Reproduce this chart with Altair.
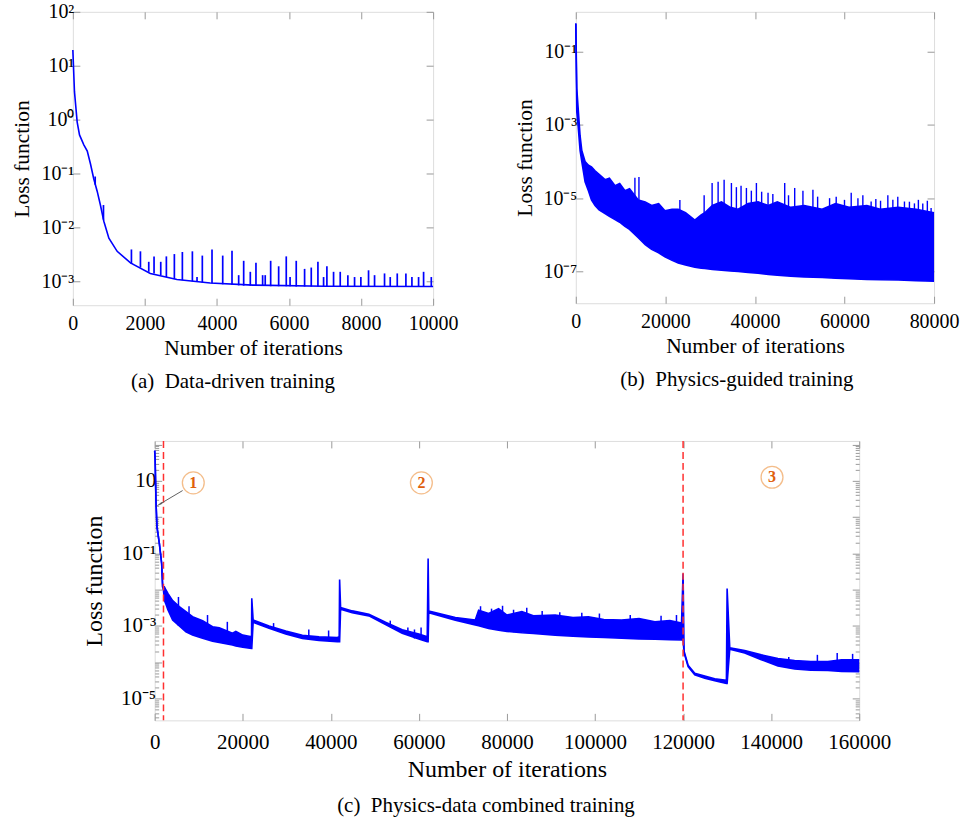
import altair as alt
import pandas as pd

FONT = "Liberation Serif"
BLUE = "#0000ff"
FRAME = "#9a9a9a"
LW = 1.6

# ---------------- (a) Data-driven training ----------------
a_iter = [0, 45, 120, 185, 305, 400, 490, 580, 675, 765, 860, 1000, 1230, 1600,
          2150, 2890, 3815, 5000, 7000, 10000]
a_loss = [19.6, 3.3, 0.9, 0.52, 0.34, 0.26, 0.15, 0.08, 0.047, 0.026, 0.013, 0.0063,
          0.0036, 0.0022, 0.0014, 0.00108, 0.00093, 0.00085, 0.00081, 0.0008]
a_spike_iter = [620, 850, 1626, 1876, 2107, 2254, 2440, 2596, 2818, 3040, 3318, 3447, 3594,
                3863, 4160, 4418, 4603, 4742, 4926, 5083, 5268, 5340, 5491, 5713, 5924,
                6030, 6201, 6433, 6618, 6803, 6960, 7052, 7237, 7422, 7634, 7820, 7995,
                8208, 8375, 8652, 8810, 9005, 9245, 9412, 9597, 9736, 9950]
a_spike_peak = [0.088, 0.026, 0.0039, 0.0036, 0.0023, 0.0029, 0.0023, 0.0029, 0.0032, 0.0035,
                0.0036, 0.0012, 0.0030, 0.0039, 0.0030, 0.0037, 0.0013, 0.0024, 0.0015,
                0.0022, 0.0013, 0.0013, 0.0024, 0.0019, 0.0029, 0.0012, 0.0024, 0.0017,
                0.0018, 0.0023, 0.0012, 0.0019, 0.0015, 0.0015, 0.0013, 0.0012, 0.0012,
                0.0016, 0.0013, 0.0014, 0.0012, 0.0014, 0.0014, 0.0012, 0.0012, 0.0015,
                0.0012]
a_spike_base = [0.062, 0.014, 0.0021, 0.0018, 0.0015, 0.0014, 0.0013, 0.0012, 0.0011, 0.00105,
                0.001, 0.00097, 0.00095, 0.00092, 0.00088, 0.00086, 0.00084, 0.00083,
                0.00083, 0.00082, 0.00082, 0.00082, 0.00081, 0.00081, 0.00081, 0.00081,
                0.0008, 0.0008, 0.0008, 0.0008, 0.0008, 0.0008, 0.0008, 0.0008, 0.0008,
                0.0008, 0.0008, 0.0008, 0.0008, 0.0008, 0.0008, 0.0008, 0.0008, 0.0008,
                0.0008, 0.0008, 0.0008]
a_xticks = [0, 2000, 4000, 6000, 8000, 10000]
a_yticks = [1e-3, 1e-2, 1e-1, 1, 10, 100]
a_ylabels = ["10\u207b\u00b3", "10\u207b\u00b2", "10\u207b\u00b9", "10\u2070", "10\u00b9", "10\u00b2"]

# ---------------- (b) Physics-guided training ----------------
b_iter = [0, 220, 500, 960, 1340, 2070, 2820, 3500, 4300, 5200, 6530, 7500, 8760, 9800,
          10980, 12000, 13950, 15500, 16930, 18500, 19900, 21500, 22870, 24500, 26580,
          28000, 28810, 30500, 32530, 34500, 36250, 38500, 40700, 43000, 45000, 48000,
          51000, 55000, 58000, 61000, 65000, 68000, 72000, 76000, 80000]
b_lo = [0.59, 2.3e-3, 1.0e-3, 2.0e-4, 1.0e-4, 2.8e-5, 1.6e-5, 8.9e-6, 6.3e-6, 4.8e-6,
        3.8e-6, 3.2e-6, 2.6e-6, 2.2e-6, 1.7e-6, 1.4e-6, 8.3e-7, 5.4e-7, 4.0e-7, 3.2e-7,
        2.5e-7, 2.0e-7, 1.7e-7, 1.5e-7, 1.3e-7, 1.23e-7, 1.2e-7, 1.12e-7, 1.07e-7, 1.02e-7,
        1.0e-7, 9.3e-8, 8.9e-8, 8.3e-8, 7.9e-8, 7.4e-8, 7.1e-8, 6.8e-8, 6.5e-8, 6.3e-8,
        6.0e-8, 5.9e-8, 5.8e-8, 5.6e-8, 5.4e-8]
b_hi = [0.59, 1.0e-2, 3.2e-3, 5.0e-4, 2.0e-4, 1.0e-4, 7.9e-5, 7.1e-5, 5.6e-5, 4.5e-5,
        3.2e-5, 3.5e-5, 2.2e-5, 2.5e-5, 1.6e-5, 1.8e-5, 8.9e-6, 7.9e-6, 6.3e-6, 7.1e-6,
        4.5e-6, 5.0e-6, 5.0e-6, 4.0e-6, 2.5e-6, 3.5e-6, 4.0e-6, 6.3e-6, 7.9e-6, 5.6e-6,
        5.0e-6, 7.1e-6, 7.9e-6, 6.3e-6, 7.9e-6, 5.6e-6, 6.3e-6, 5.0e-6, 7.1e-6, 5.6e-6,
        6.3e-6, 5.0e-6, 5.6e-6, 5.0e-6, 4.0e-6]
b_spike_iter = [13200, 14100, 23240, 28660, 30440, 31780, 33120, 34750, 35860, 36900, 38100,
                39200, 40330, 41500, 42930, 44000, 46650, 47500, 48880, 50720, 52950, 54000,
                56670, 58150, 60000, 61500, 63000, 64100, 65950, 67000, 68050, 69680, 70800,
                71900, 73390, 74500, 75620, 76500, 77480, 78500, 79340]
b_spike_peak = [3.6e-5, 3.8e-5, 8.9e-6, 1.2e-5, 2.6e-5, 2.8e-5, 3.2e-5, 2.6e-5, 2.0e-5,
                2.2e-5, 1.9e-5, 1.6e-5, 2.6e-5, 1.5e-5, 1.4e-5, 1.3e-5, 2.6e-5, 1.2e-5,
                1.9e-5, 1.6e-5, 1.7e-5, 1.1e-5, 1.0e-5, 1.1e-5, 9.0e-6, 1.4e-5, 1.0e-5,
                1.2e-5, 8.1e-6, 9.5e-6, 8.5e-6, 1.2e-5, 9.0e-6, 1.1e-5, 8.1e-6, 8.0e-6,
                7.2e-6, 9.0e-6, 7.2e-6, 8.5e-6, 5.4e-6]
b_spike_base = [2e-6, 2e-6, 2e-6, 2e-6, 2e-6, 2e-6, 2e-6, 2e-6, 2e-6, 2e-6, 2e-6,
                2e-6, 2e-6, 2e-6, 2e-6, 2e-6, 2e-6, 2e-6, 2e-6, 2e-6, 2e-6, 2e-6,
                2e-6, 2e-6, 2e-6, 2e-6, 2e-6, 2e-6, 2e-6, 2e-6, 2e-6, 2e-6, 2e-6,
                2e-6, 2e-6, 2e-6, 2e-6, 2e-6, 2e-6, 2e-6, 2e-6]
b_xticks = [0, 20000, 40000, 60000, 80000]
b_yticks = [1e-7, 1e-5, 1e-3, 1e-1]
b_ylabels = ["10\u207b\u2077", "10\u207b\u2075", "10\u207b\u00b3", "10\u207b\u00b9"]

# ---------------- (c) Physics-data combined training ----------------
c_iter = [0, 100, 200, 300, 520, 1060, 1590, 1810, 2000, 2200, 2560, 3000, 4080, 5590,
          7100, 8600, 10880, 13140, 14660, 17670, 18440, 20000, 22000, 22050, 22360, 25980,
          29760, 33540, 37320, 41470, 41900, 42000, 42220, 44870, 48650, 52430, 56210,
          59990, 61900, 62100, 62240, 68280, 72810, 73570, 75840, 78100, 80000, 83390,
          86000, 90950, 95000, 98500, 102000, 106050, 110000, 113600, 117000, 119650,
          120000, 120230, 121140, 122650, 124920, 127190, 129840, 130000, 130600, 134000,
          137770, 141550, 145330, 149000, 152880, 156000, 160000]
c_lo = [68, 40, 10, 2.6, 0.54, 0.19, 0.052, 0.012, 0.0095, 5.1e-3, 4.0e-3, 2.8e-3, 1.45e-3,
        1.0e-3, 6.9e-4, 5.6e-4, 4.6e-4, 3.8e-4, 3.5e-4, 3.0e-4, 2.8e-4, 2.6e-4, 2.4e-4,
        2.4e-4, 1.26e-3, 8.7e-4, 6.0e-4, 4.5e-4, 4.0e-4, 3.7e-4, 3.7e-4, 3.7e-4, 2.9e-3,
        2.3e-3, 1.9e-3, 1.1e-3, 6.3e-4, 4.4e-4, 3.7e-4, 3.7e-4, 2.3e-3, 1.45e-3, 1.07e-3,
        1.02e-3, 8.5e-4, 7.6e-4, 7.1e-4, 6.5e-4, 6.2e-4, 5.6e-4, 5.2e-4, 5.0e-4, 4.8e-4,
        4.6e-4, 4.4e-4, 4.3e-4, 4.2e-4, 4.1e-4, 4.1e-4, 1.8e-4, 7.6e-5, 4.5e-5, 3.6e-5,
        3.1e-5, 2.6e-5, 2.6e-5, 2.3e-4, 1.8e-4, 1.17e-4, 7.9e-5, 6.5e-5, 6.0e-5, 5.9e-5,
        5.6e-5, 5.5e-5]
c_hi = [68, 40, 10, 2.6, 0.54, 0.19, 0.052, 0.012, 0.012, 1.2e-2, 9.8e-3, 7.9e-3, 5.0e-3,
        3.4e-3, 2.5e-3, 1.8e-3, 1.4e-3, 9.5e-4, 8.9e-4, 6.3e-4, 7.1e-4, 5.6e-4, 5.0e-4,
        5.8e-3, 1.45e-3, 1.0e-3, 7.2e-4, 5.5e-4, 5.0e-4, 4.8e-4, 5.0e-4, 1.9e-2, 3.2e-3,
        2.6e-3, 2.1e-3, 1.26e-3, 7.9e-4, 6.0e-4, 5.0e-4, 7.2e-2, 2.6e-3, 1.7e-3, 1.45e-3,
        2.7e-3, 2.2e-3, 3.0e-3, 2.0e-3, 2.5e-3, 1.9e-3, 2.0e-3, 1.7e-3, 1.8e-3, 1.5e-3,
        1.45e-3, 1.6e-3, 1.3e-3, 1.4e-3, 1.2e-3, 2.8e-2, 2.0e-4, 8.3e-5, 5.0e-5, 4.2e-5,
        3.5e-5, 3.2e-5, 1.07e-2, 2.5e-4, 2.1e-4, 1.6e-4, 1.26e-4, 1.12e-4, 1.05e-4, 1.05e-4,
        1.17e-4, 1.17e-4]
c_spike_iter = [5400, 7800, 12000, 16500, 27000, 35000, 39500, 53500, 57500, 59000, 60500,
                74000, 76500, 79000, 81500, 84500, 88000, 92000, 97000, 101000, 108000,
                115000, 118500, 144000, 150500, 155000, 158500]
c_spike_peak = [6.3e-3, 3.5e-3, 2.0e-3, 1.3e-3, 1.2e-3, 8.0e-4, 7.5e-4, 1.4e-3, 9.0e-4,
                8.0e-4, 9.0e-4, 3.5e-3, 3.0e-3, 3.6e-3, 2.8e-3, 3.2e-3, 2.6e-3, 2.4e-3,
                2.3e-3, 2.2e-3, 2.0e-3, 1.9e-3, 2.0e-3, 1.4e-4, 1.6e-4, 1.8e-4, 1.7e-4]
c_spike_base = [1.0e-3, 6.5e-4, 4.2e-4, 3.2e-4, 8.5e-4, 4.3e-4, 3.8e-4, 1.0e-3, 6.0e-4,
                4.5e-4, 4.2e-4, 1.0e-3, 8.5e-4, 7.3e-4, 6.7e-4, 6.4e-4, 6.0e-4, 5.5e-4,
                5.1e-4, 4.8e-4, 4.5e-4, 4.3e-4, 4.1e-4, 7.0e-5, 6.0e-5, 5.7e-5, 5.5e-5]
c_phase_iter = [2000, 120000]
c_ann_iter = [8770, 60570, 140200]
c_ann_loss = [8.8, 8.8, 12.6]
c_ann_label = ["1", "2", "3"]
c_arrow_iter = [6350, 1200]
c_arrow_loss = [5.4, 2.3]
c_xticks = [0, 20000, 40000, 60000, 80000, 100000, 120000, 140000, 160000]
c_yticks = [1e-5, 1e-3, 1e-1, 10]
c_ylabels = ["10\u207b\u2075", "10\u207b\u00b3", "10\u207b\u00b9", "10"]
# tick positions of the log axis of (c): every decade with its minor steps
c_ytick_all = [m * 10.0 ** e for e in range(-6, 3) for m in range(1, 10)
               if 2.5e-6 <= m * 10.0 ** e <= 126]


def label_expr(vals, labels):
    import math
    parts = [f"abs(log(datum.value)/LN10 - ({round(math.log10(v))})) < 0.001 ? '{l}'"
             for v, l in zip(vals, labels)]
    return " : ".join(parts) + " : ''"


MINOR_SIZE = ("abs(log(datum.value)/LN10 - round(log(datum.value)/LN10)) < 0.001"
              " ? -7 : -4")


def axis(orient, vals, lsize, tsize, title=None, lexpr=None, fmt=None,
         labels=True, lpad=4, tpad=6, tick_expr="-7"):
    kw = dict(orient=orient, values=vals, grid=False, domain=False, ticks=True,
              tickSize={"expr": tick_expr}, tickColor=FRAME, tickWidth=1,
              labels=labels, labelFont=FONT, labelFontSize=lsize, labelColor="black",
              labelPadding=lpad, labelFlush=False, labelOverlap=False)
    if lexpr:
        kw["labelExpr"] = lexpr
    if fmt:
        kw["format"] = fmt
    if title:
        kw.update(title=title, titleFont=FONT, titleFontSize=tsize,
                  titleFontWeight="normal", titleColor="black", titlePadding=tpad)
    else:
        kw["title"] = None
    return alt.Axis(**kw)


def frame_layer(df, xf, yf, xs, ys, xticks, yticks, ytick_expr="-7"):
    return alt.Chart(df.head(1)).mark_point(opacity=0).encode(
        x=alt.X(xf, scale=xs, axis=axis("top", xticks, 10, 10, labels=False)),
        y=alt.Y(yf, scale=ys, axis=axis("right", yticks, 10, 10, labels=False,
                                        tick_expr=ytick_expr)),
    )


def caption(text, dx, offset):
    return alt.TitleParams(text=text, orient="bottom", anchor="middle", font=FONT,
                           fontSize=21, fontWeight="normal", color="black",
                           offset=offset, dx=dx)


# ---------- panel a ----------
a_df = pd.DataFrame({"it": a_iter, "loss": a_loss})
a_sp = pd.DataFrame({"it": a_spike_iter, "peak": a_spike_peak, "base": a_spike_base})
xs_a = alt.Scale(domain=[0, 10000], nice=False)
ys_a = alt.Scale(type="log", domain=[3.6e-4, 100], nice=False)

line_a = alt.Chart(a_df).mark_line(color=BLUE, strokeWidth=LW).encode(
    x=alt.X("it:Q", scale=xs_a,
            axis=axis("bottom", a_xticks, 20, 21.5, "Number of iterations", fmt="d",
                      lpad=15, tpad=4)),
    y=alt.Y("loss:Q", scale=ys_a,
            axis=axis("left", a_yticks, 20, 21.5, "Loss function",
                      lexpr=label_expr(a_yticks, a_ylabels), lpad=6, tpad=7)),
)
spk_a = alt.Chart(a_sp).mark_rule(color=BLUE, strokeWidth=1.7).encode(
    x=alt.X("it:Q", scale=xs_a, axis=None),
    y=alt.Y("base:Q", scale=ys_a, axis=None),
    y2="peak:Q",
)
A = alt.layer(line_a, spk_a, frame_layer(a_df, "it:Q", "loss:Q", xs_a, ys_a, a_xticks, a_yticks)
              ).resolve_axis(x="independent", y="independent").properties(
    width=361, height=294, title=caption("(a)\u00a0 Data-driven training", -20, 12))

# ---------- panel b ----------
b_df = pd.DataFrame({"it": b_iter, "lo": b_lo, "hi": b_hi})
b_sp = pd.DataFrame({"it": b_spike_iter, "peak": b_spike_peak, "base": b_spike_base})
xs_b = alt.Scale(domain=[0, 80000], nice=False)
ys_b = alt.Scale(type="log", domain=[1.35e-8, 1.23], nice=False)

band_b = alt.Chart(b_df).mark_area(color=BLUE, opacity=1).encode(
    x=alt.X("it:Q", scale=xs_b,
            axis=axis("bottom", b_xticks, 20, 21.5, "Number of iterations", fmt="d",
                      lpad=15, tpad=4)),
    y=alt.Y("lo:Q", scale=ys_b,
            axis=axis("left", b_yticks, 20, 21.5, "Loss function",
                      lexpr=label_expr(b_yticks, b_ylabels), lpad=6, tpad=6)),
    y2="hi:Q",
)
lo_b = alt.Chart(b_df).mark_line(color=BLUE, strokeWidth=LW).encode(
    x=alt.X("it:Q", scale=xs_b, axis=None), y=alt.Y("lo:Q", scale=ys_b, axis=None))
hi_b = alt.Chart(b_df).mark_line(color=BLUE, strokeWidth=LW).encode(
    x=alt.X("it:Q", scale=xs_b, axis=None), y=alt.Y("hi:Q", scale=ys_b, axis=None))
spk_b = alt.Chart(b_sp).mark_rule(color=BLUE, strokeWidth=1.4).encode(
    x=alt.X("it:Q", scale=xs_b, axis=None),
    y=alt.Y("base:Q", scale=ys_b, axis=None),
    y2="peak:Q",
)
B = alt.layer(band_b, lo_b, hi_b, spk_b,
              frame_layer(b_df, "it:Q", "lo:Q", xs_b, ys_b, b_xticks, b_yticks)
              ).resolve_axis(x="independent", y="independent").properties(
    width=359, height=292, title=caption("(b)\u00a0 Physics-guided training", -18, 12))

# ---------- panel c ----------
c_df = pd.DataFrame({"it": c_iter, "lo": c_lo, "hi": c_hi})
c_sp = pd.DataFrame({"it": c_spike_iter, "peak": c_spike_peak, "base": c_spike_base})
c_ph = pd.DataFrame({"it": c_phase_iter})
c_an = pd.DataFrame({"it": c_ann_iter, "loss": c_ann_loss, "label": c_ann_label})
c_ar = pd.DataFrame({"it": c_arrow_iter, "loss": c_arrow_loss})
xs_c = alt.Scale(domain=[0, 160000], nice=False)
ys_c = alt.Scale(type="log", domain=[2.5e-6, 126], nice=False)

band_c = alt.Chart(c_df).mark_area(color=BLUE, opacity=1).encode(
    x=alt.X("it:Q", scale=xs_c,
            axis=axis("bottom", c_xticks, 21, 24, "Number of iterations", fmt="d",
                      lpad=18, tpad=5)),
    y=alt.Y("lo:Q", scale=ys_c,
            axis=axis("left", c_ytick_all, 21, 24, "Loss function",
                      lexpr=label_expr(c_yticks, c_ylabels), lpad=6, tpad=14,
                      tick_expr=MINOR_SIZE)),
    y2="hi:Q",
)
lo_c = alt.Chart(c_df).mark_line(color=BLUE, strokeWidth=LW).encode(
    x=alt.X("it:Q", scale=xs_c, axis=None), y=alt.Y("lo:Q", scale=ys_c, axis=None))
hi_c = alt.Chart(c_df).mark_line(color=BLUE, strokeWidth=LW).encode(
    x=alt.X("it:Q", scale=xs_c, axis=None), y=alt.Y("hi:Q", scale=ys_c, axis=None))
spk_c = alt.Chart(c_sp).mark_rule(color=BLUE, strokeWidth=1.5).encode(
    x=alt.X("it:Q", scale=xs_c, axis=None),
    y=alt.Y("base:Q", scale=ys_c, axis=None),
    y2="peak:Q",
)
phase_c = alt.Chart(c_ph).mark_rule(color="#ff3030", strokeWidth=1.5, strokeDash=[7, 4]).encode(
    x=alt.X("it:Q", scale=xs_c, axis=None))
circ_c = alt.Chart(c_an).mark_point(shape="circle", size=480, filled=False,
                                    color="#f0a25a", strokeWidth=1.3).encode(
    x=alt.X("it:Q", scale=xs_c, axis=None), y=alt.Y("loss:Q", scale=ys_c, axis=None))
txt_c = alt.Chart(c_an).mark_text(font=FONT, fontSize=16, fontWeight="bold",
                                  color="#e0600c", baseline="middle", align="center").encode(
    x=alt.X("it:Q", scale=xs_c, axis=None), y=alt.Y("loss:Q", scale=ys_c, axis=None),
    text="label:N")
arr_c = alt.Chart(c_ar).mark_line(color="#606060", strokeWidth=1).encode(
    x=alt.X("it:Q", scale=xs_c, axis=None), y=alt.Y("loss:Q", scale=ys_c, axis=None))
head_c = alt.Chart(c_ar.tail(1)).mark_point(shape="wedge", filled=True, size=70, angle=240,
                                            color="#606060", opacity=1).encode(
    x=alt.X("it:Q", scale=xs_c, axis=None), y=alt.Y("loss:Q", scale=ys_c, axis=None))
C = alt.layer(band_c, lo_c, hi_c, spk_c, phase_c, arr_c, head_c, circ_c, txt_c,
              frame_layer(c_df, "it:Q", "lo:Q", xs_c, ys_c, c_xticks, c_ytick_all,
                          ytick_expr=MINOR_SIZE)
              ).resolve_axis(x="independent", y="independent").properties(
    width=706, height=280,
    title=caption("(c)\u00a0 Physics-data combined training", -21, 14))

spacer = alt.Chart(pd.DataFrame({"v": [0]})).mark_point(opacity=0).encode(
    x=alt.X("v:Q", axis=None), y=alt.Y("v:Q", axis=None)
).properties(width=1, height=280, view=alt.ViewBackground(strokeOpacity=0))

top = alt.hconcat(A, B, spacing=143, bounds="flush")
bottom = alt.hconcat(spacer, C, spacing=81, bounds="flush")
# nested rows count with zero height under flush bounds, so the spacing
# is the distance between the two rows' plot tops
chart = alt.vconcat(top, bottom, spacing=430, bounds="flush").properties(
    padding={"left": 11, "top": 0, "right": 0, "bottom": 0},
    background="white",
).configure_view(stroke=FRAME, strokeWidth=1).configure(font=FONT)

chart.save("out.html", embed_options={"renderer": "svg", "actions": False})
